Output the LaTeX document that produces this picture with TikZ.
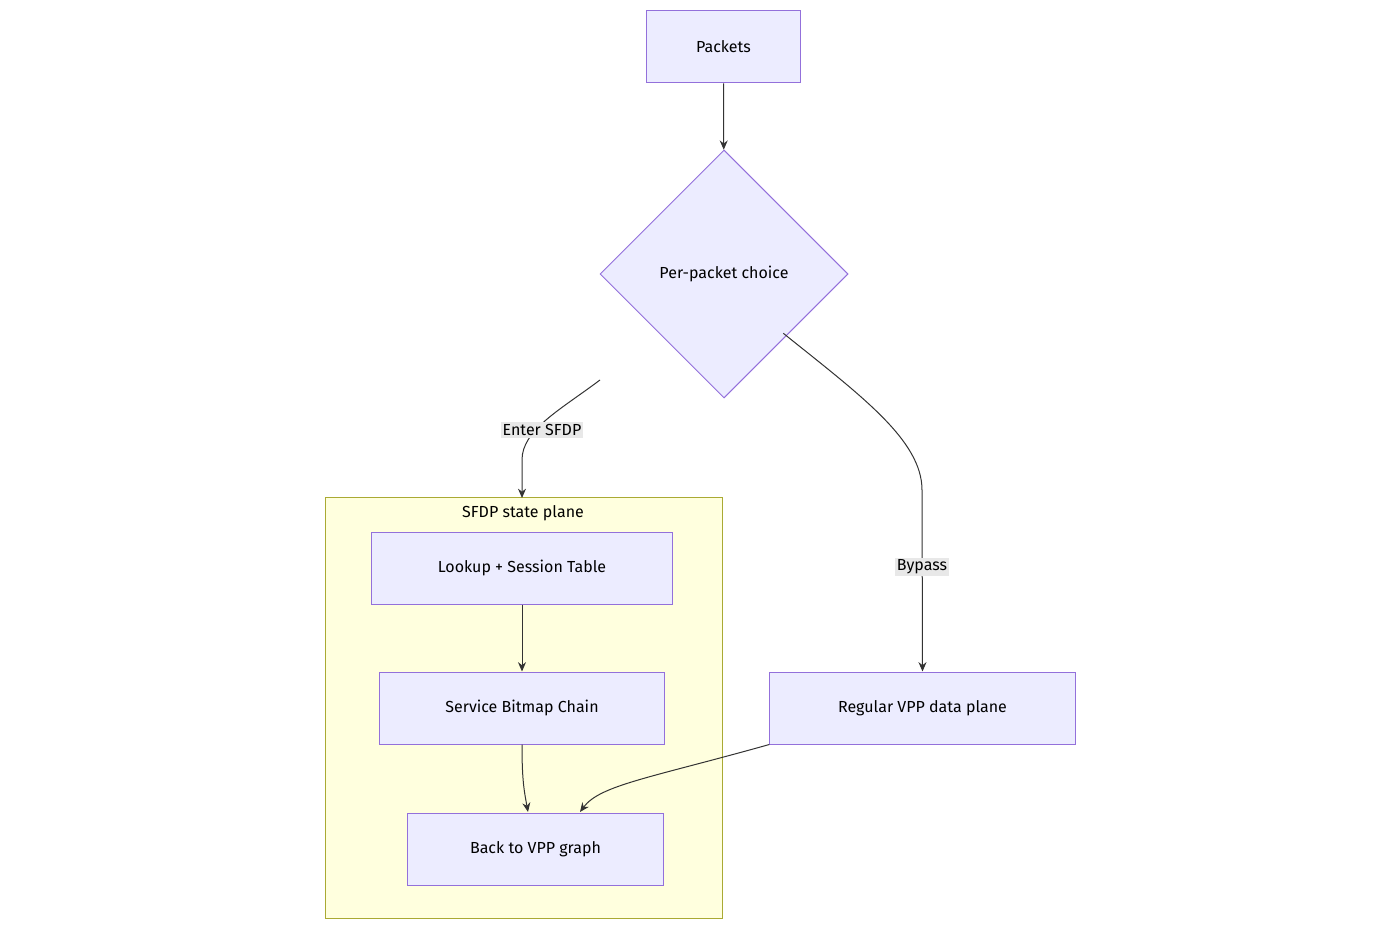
\documentclass[tikz,border=0pt]{standalone}
\usepackage{fontspec}
\setmainfont{Fira Sans}
\usetikzlibrary{shapes.geometric,arrows.meta}
\definecolor{boxfill}{HTML}{ECECFF}
\definecolor{boxline}{HTML}{9370DB}
\definecolor{planefill}{HTML}{FFFFDE}
\definecolor{planeline}{HTML}{AAAA33}
\definecolor{edgecol}{HTML}{333333}
\definecolor{labelbg}{HTML}{E8E8E8}
\begin{document}
\begin{tikzpicture}[x=0.75pt,y=0.75pt,yscale=-1,xscale=1,
  font=\fontsize{12}{14}\selectfont,
  stepbox/.style={draw=boxline,fill=boxfill,line width=0.75pt,minimum height=54pt},
  flow/.style={draw=edgecol,line width=0.75pt,-{Stealth[length=7pt,width=6pt]}},
  edgelabel/.style={fill=labelbg,inner sep=1.5pt}]

\useasboundingbox (0,0) rectangle (1400,930);

\draw [draw=planeline,fill=planefill,line width=0.75pt] (325,498) rectangle (722,918);
\node (plane) at (523,513) {SFDP state plane};

\node [stepbox,minimum width=115pt] (packets) at (723.5,47) {Packets};
\node [draw=boxline,fill=boxfill,line width=0.75pt,diamond,minimum width=186pt,minimum height=186pt,inner sep=0pt] (choice) at (724,274) {Per-packet choice};
\node [stepbox,minimum width=226pt] (lookup) at (522,568) {Lookup + Session Table};
\node [stepbox,minimum width=214pt] (chain) at (522,708) {Service Bitmap Chain};
\node [stepbox,minimum width=192pt] (back) at (535.5,849) {Back to VPP graph};
\node [stepbox,minimum width=229pt] (regular) at (922.5,708) {Regular VPP data plane};

\coordinate (enter) at (600,380);
\coordinate (planetop) at (522,498);

\draw [flow] (packets) -- (choice);
\draw [flow] (enter) .. controls (560,410) and (522,430) .. (522,460) -- (planetop);
\node [edgelabel] (enterlbl) at (542,430) {Enter SFDP};
\draw [flow] (choice.south east) ++(-3,-3) .. controls (860,395) and (922,440) .. (922,490) -- (regular.north);
\node [edgelabel] (bypasslbl) at (922,567) {Bypass};
\draw [flow] (lookup) -- (chain);
\draw [flow] (chain.south) .. controls (522,780) and (524,790) .. (528,812);
\draw [flow] (regular.south west) .. controls (650,778) and (600,785) .. (580,812);

\end{tikzpicture}
\end{document}
